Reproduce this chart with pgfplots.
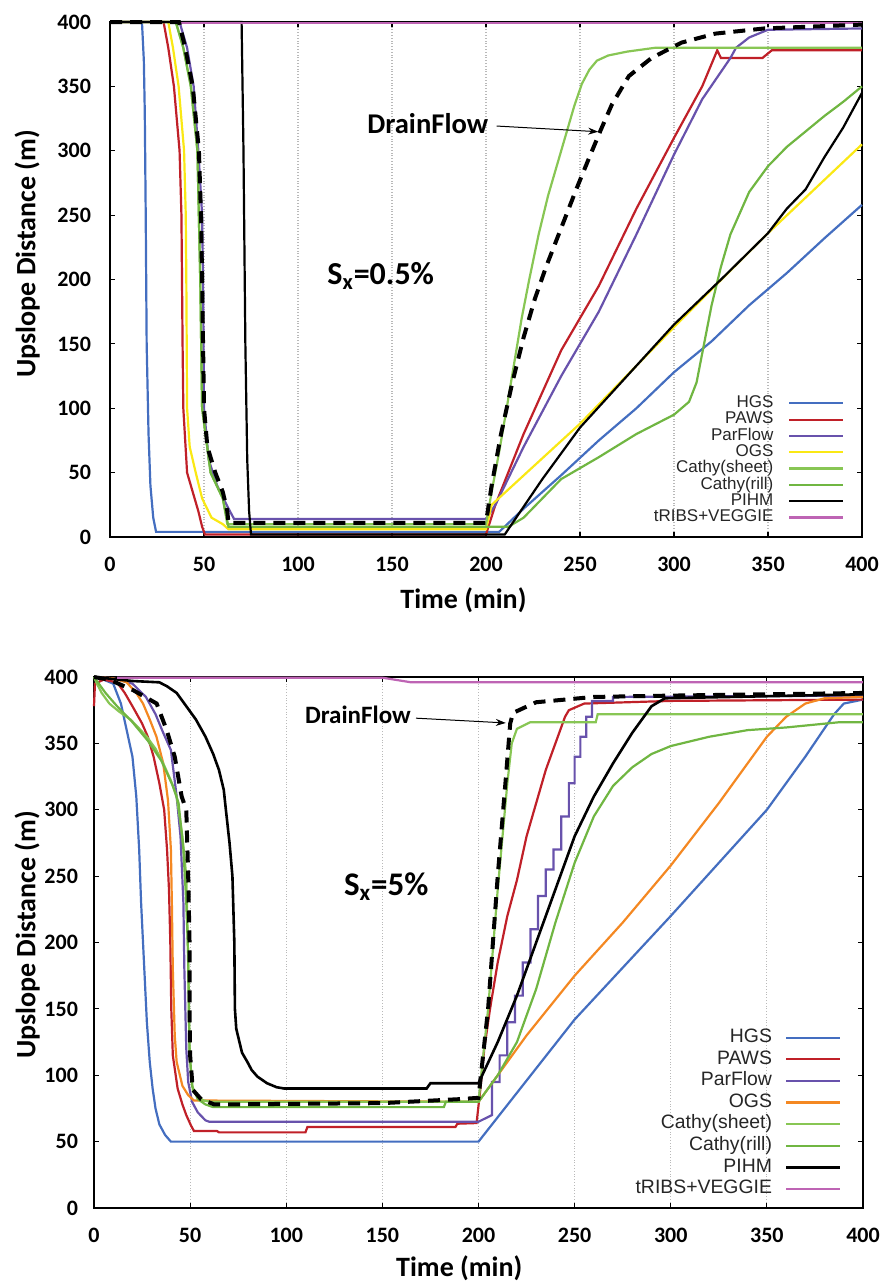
\documentclass[border=0pt]{standalone}
\usepackage{fontspec}
\setmainfont{Carlito}
\newfontfamily\legfont{Liberation Sans}
\usepackage{pgfplots}
\pgfplotsset{compat=1.18}
\usetikzlibrary{arrows.meta}

\definecolor{hgs}{RGB}{68,110,192}
\definecolor{paws}{RGB}{192,32,40}
\definecolor{parflow}{RGB}{104,82,172}
\definecolor{ogsy}{RGB}{250,232,20}
\definecolor{ogso}{RGB}{244,136,34}
\definecolor{sheet}{RGB}{136,198,84}
\definecolor{rill}{RGB}{112,182,66}
\definecolor{tribs}{RGB}{190,100,180}

\pgfplotsset{
  panel/.style={
    scale only axis, clip=false,
    xmin=0, xmax=400, ymin=0, ymax=400,
    xtick={0,50,...,400}, ytick={0,50,...,400},
    tick align=inside, major tick length=2.5pt,
    xmajorgrids, grid style={densely dotted, gray!55, line width=0.6pt},
    axis line style={line width=1.4pt},
    tick style={black, line width=0.6pt},
    /pgf/number format/assume math mode=true,
    ticklabel style={font=\bfseries\fontsize{11}{13}\selectfont},
    xticklabel style={yshift=-6.5pt},
    label style={font=\bfseries\fontsize{14}{16}\selectfont},
    every axis plot/.append style={line width=1.1pt},
    legend plot pos=right,
    legend cell align=right,
    legend image code/.code={\draw[##1] (0pt,0pt) -- (27pt,0pt);},
  },
  drain/.style={black, line width=2pt, dash pattern=on 6pt off 4pt},
}

\begin{document}
\begin{tikzpicture}
\useasboundingbox (0,0) rectangle (441.5pt,-641pt);

% ---------------- S_x = 0.5 % ----------------
\begin{axis}[panel,
  at={(55pt,-268.5pt)}, anchor=south west,
  width=376pt, height=257.5pt,
  yticklabel style={xshift=-6pt},
  xlabel={Time (min)}, ylabel={Upslope Distance (m)},
  xlabel style={at={(axis description cs:0.47,-0.122)}, anchor=center},
  ylabel style={at={(axis description cs:-0.110,0.55)}, anchor=center},
  legend style={draw=none, fill=none, at={(axis description cs:1,0)},
    anchor=south east, xshift=-8.5pt, yshift=5.5pt, inner sep=0pt,
    column sep=7.5pt, row sep=0pt,
    font=\legfont\fontsize{8.5}{9}\selectfont, text=black!85,
    nodes={inner sep=0pt, text height=6.2pt, text depth=1.95pt}},
]
\addplot[hgs] coordinates {(0,400)(17,400)(18,370)(18.5,330)(19,250)(19.5,150)(20.5,80)(21.5,40)(23,15)(24.5,4)(207,4)(220,22)(240,48)(260,75)(280,100)(300,128)(320,152)(340,180)(360,205)(380,232)(400,258)};
\addlegendentry{HGS}
\addplot[paws] coordinates {(0,400)(28.5,400)(31,380)(34,350)(37,300)(38,250)(38.3,200)(38.6,150)(39,100)(41,50)(44,35)(47,20)(49,8)(50.5,2)(200,2)(205,25)(220,80)(240,145)(260,195)(280,255)(300,310)(315,350)(323,378)(325,372)(347,372)(352,378)(400,378)};
\addlegendentry{PAWS}
\addplot[parflow] coordinates {(0,400)(37,400)(41,380)(44.5,350)(47,300)(49,250)(49.5,200)(50,100)(52.5,60)(57,40)(62,25)(66,14)(200,14)(205,25)(220,70)(240,125)(260,175)(280,235)(300,297)(315,340)(330,372)(333,380)(340,388)(350,394)(400,395)};
\addlegendentry{ParFlow}
\addplot[ogsy] coordinates {(0,400)(31,400)(33.5,380)(36.5,350)(39.4,300)(40.3,250)(40.6,200)(41,100)(42.4,70)(45.6,50)(49,30)(54,15)(60,10)(63,6)(200,6)(203,25)(250,88)(300,163)(350,236)(400,305)};
\addlegendentry{OGS}
\addplot[sheet] coordinates {(0,400)(35,400)(39,380)(43,350)(46.5,300)(48,200)(49,100)(53.5,50)(60,30)(62.4,10)(200,10)(203,35)(207,66)(211,100)(215,135)(219,170)(223,200)(228,235)(233,265)(238,290)(243,315)(247,335)(251,352)(255,363)(259,370)(265,374)(275,377)(290,380)(400,380)};
\addlegendentry{Cathy(sheet)}
\addplot[rill] coordinates {(0,400)(35,400)(39,380)(43,350)(46.5,300)(48,200)(49,100)(53.5,50)(60,30)(63,8)(212,8)(220,15)(240,45)(260,62)(280,80)(300,95)(308,105)(312,120)(316,150)(320,180)(325,210)(330,235)(340,268)(350,288)(360,303)(370,315)(380,327)(390,338)(400,350)};
\addlegendentry{Cathy(rill)}
\addplot[black] coordinates {(0,400)(70,400)(71,300)(72,150)(73,60)(74,20)(75,2)(210,2)(230,45)(250,85)(275,125)(300,165)(325,200)(350,236)(360,255)(370,270)(380,295)(390,318)(400,345)};
\addlegendentry{PIHM}
\addplot[tribs] coordinates {(37,399.5)(400,399.5)};
\addlegendentry{tRIBS+VEGGIE}
\addplot[drain, forget plot] coordinates {(0,400)(36.7,400)(40,380)(44,350)(47.3,300)(48.4,250)(49,200)(50,100)(51.8,70)(56,50)(60,35)(62.4,20)(63,11)(200,11)(203,40)(208,80)(214,120)(220,155)(226,185)(232,210)(240,240)(248,270)(255,295)(261,316)(267,336)(276,358)(288,372)(304,384)(322,391)(348,395)(400,398)};

\node[font=\bfseries\fontsize{14.3}{16}\selectfont] at (axis cs:169,321) {DrainFlow};
\draw[-{Stealth[length=5pt,width=3.5pt]}, line width=0.5pt] (axis cs:205.7,319.2) -- (axis cs:259.7,314.8);
\node[font=\bfseries\fontsize{16}{18}\selectfont] at (axis cs:144,203) {S\textsubscript{x}=0.5\%};
\end{axis}

% ---------------- S_x = 5 % ----------------
\begin{axis}[panel,
  at={(47pt,-604pt)}, anchor=south west,
  width=384.5pt, height=265.5pt,
  yticklabel style={xshift=-4.5pt},
  xlabel={Time (min)}, ylabel={Upslope Distance (m)},
  xlabel style={at={(axis description cs:0.475,-0.113)}, anchor=center},
  ylabel style={at={(axis description cs:-0.087,0.514)}, anchor=center},
  legend style={draw=none, fill=none, at={(axis description cs:1,0)},
    anchor=south east, xshift=-10.5pt, yshift=4pt, inner sep=0pt,
    column sep=6.5pt, row sep=0pt,
    font=\legfont\fontsize{9.7}{10}\selectfont, text=black!85,
    nodes={inner sep=0pt, text height=7.8pt, text depth=3pt}},
]
\addplot[hgs] coordinates {(0,400)(5,398)(10,395)(14,380)(17,360)(20,340)(22,310)(23.5,270)(24.5,230)(25.5,200)(26.5,170)(27.5,140)(29,110)(30.5,90)(32,75)(34,63)(37,55)(40,50)(200,50)(250,142)(300,220)(350,300)(370,340)(385,372)(390,380)(400,383)};
\addlegendentry{HGS}
\addplot[paws] coordinates {(0,378)(0.5,395)(5,398)(12,396)(16,388)(20,378)(25,365)(28,355)(31,340)(34,320)(36.5,300)(38,270)(39,240)(39.7,200)(40.2,150)(41,115)(43.5,90)(46,78)(48,70)(50.5,62)(52,58)(64,58)(65,57)(110,57)(111,61)(188,61)(189,63.5)(199,64)(201,90)(203,120)(206,150)(210,185)(215,220)(220,247)(225,280)(230,305)(235,330)(240,350)(245,370)(247,375)(255,380)(300,382)(400,383)};
\addlegendentry{PAWS}
\addplot[parflow] coordinates {(0,400)(10,399)(20,395)(27,385)(32,372)(36,358)(40,345)(43,310)(45,280)(46.5,230)(47,180)(48,120)(49,95)(51,80)(54,72)(58,66)(60,65)(200,65)(207,70)(207,95)(211,95)(211,115)(215,115)(215,140)(219,140)(219,160)(223,160)(223,185)(227,185)(227,210)(231,210)(231,235)(235,235)(235,255)(239,255)(239,270)(243,270)(243,295)(247,295)(247,320)(250,320)(250,340)(253,340)(253,355)(256,355)(256,370)(259,370)(259,382)(270,382)(270,385)(400,386)};
\addlegendentry{ParFlow}
\addplot[ogso] coordinates {(0,400)(10,399)(17,396)(22,388)(25.5,380)(29,368)(32.5,355)(36,335)(38.5,307)(40,270)(40.5,230)(41,180)(42,130)(43,110)(46,92)(49,85)(52,81)(200,80)(210,100)(225,130)(250,175)(275,215)(300,258)(325,305)(340,335)(350,355)(360,370)(370,380)(380,384)(400,385)};
\addlegendentry{OGS}
\addplot[sheet] coordinates {(0,400)(1.5,395)(4,388)(8,380)(13,374)(19,368)(23,362)(27.5,355)(32,346)(36,335)(40,322)(43,310)(46,280)(48,250)(48.8,200)(49.7,115)(51.4,89)(54,84)(57,81)(61,80)(200,80)(205,150)(210,240)(215,320)(217.3,350)(220,361)(227,366)(261,366)(262,372)(400,372)};
\addlegendentry{Cathy(sheet)}
\addplot[rill] coordinates {(0,400)(2,396)(6,388)(12,378)(20,366)(28,352)(35,337)(41,318)(44,305)(46.5,270)(48,230)(49,190)(49.7,120)(51,92)(54,82)(58,78)(62,76)(182,76)(183,80)(200,80)(210,100)(220,125)(230,165)(240,215)(250,260)(260,295)(270,318)(280,332)(290,342)(300,348)(320,355)(340,360)(360,362)(388,366)(400,366)};
\addlegendentry{Cathy(rill)}
\addplot[black, line width=1.3pt] coordinates {(0,400)(20,397)(34,396)(38,393)(43,388)(48,378)(53,368)(58,355)(62,342)(65,330)(67.5,315)(68.6,300)(70.5,275)(72,250)(73,200)(73.3,150)(74,135)(75.5,126)(77,117)(79.8,110)(82,104)(85,99)(90,94)(95,91)(99,90)(173,90)(175,94)(200,94)(210,125)(220,160)(230,200)(240,240)(250,280)(260,310)(270,335)(280,358)(290,378)(297,384)(400,387)};
\addlegendentry{PIHM}
\addplot[tribs] coordinates {(12,399.5)(150,399.5)(165,396)(400,396)};
\addlegendentry{tRIBS+VEGGIE}
\addplot[drain, forget plot] coordinates {(0,400)(8,398)(20.5,390)(32.6,380)(37.8,360)(42,340)(45.6,310)(48,300)(49,250)(49.7,200)(49.7,150)(50,115)(51.4,89)(55.7,82)(62.6,78)(150,79)(190,82)(200,83)(205,150)(210,250)(214,320)(216.5,365)(218,373)(230,381)(260,385)(300,386)(400,388)};

\node[font=\bfseries\fontsize{12.5}{14}\selectfont] at (axis cs:137.3,371.4) {DrainFlow};
\draw[-{Stealth[length=5pt,width=3.5pt]}, line width=0.5pt] (axis cs:167.5,369) -- (axis cs:214.2,365.4);
\node[font=\bfseries\fontsize{16.5}{18}\selectfont] at (axis cs:152,242) {S\textsubscript{x}=5\%};
\end{axis}
\end{tikzpicture}
\end{document}
